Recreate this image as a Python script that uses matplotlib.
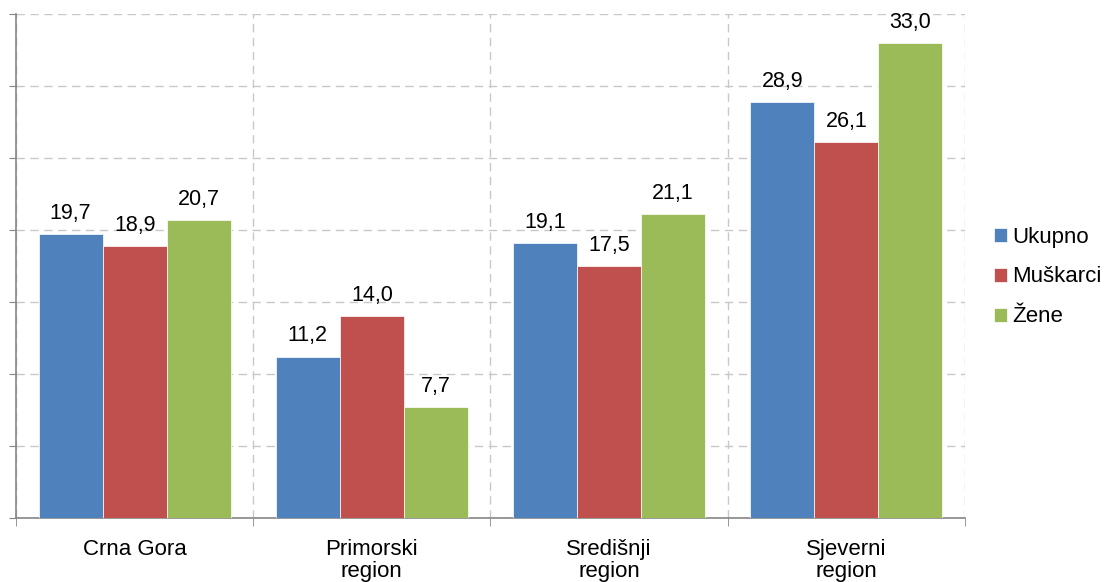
import matplotlib
matplotlib.use("Agg")
import matplotlib.pyplot as plt
import numpy as np

categories = ["Crna Gora", "Primorski\nregion", "Središnji\nregion", "Sjeverni\nregion"]
series_names = ["Ukupno", "Muškarci", "Žene"]
ukupno = [19.7, 11.2, 19.1, 28.9]
muskarci = [18.9, 14.0, 17.5, 26.1]
zene = [20.7, 7.7, 21.1, 33.0]
colors = ["#4F81BD", "#C0504D", "#9BBB59"]

plt.rcParams['font.family'] = ['Liberation Sans', 'DejaVu Sans']

fig = plt.figure(figsize=(11.04, 5.82), dpi=100)
ax = fig.add_axes([16/1104, 1 - 518/582, (965-16)/1104, (518-14)/582])

x = np.arange(len(categories))
w = 0.27
for i, (vals, name, c) in enumerate(zip([ukupno, muskarci, zene], series_names, colors)):
    pos = x + (i - 1) * w
    ax.bar(pos, vals, width=w, color=c, label=name, edgecolor="white", linewidth=0.5, zorder=3)
    for p, v in zip(pos, vals):
        ax.annotate(f"{v:.1f}".replace(".", ","), (p, v), xytext=(0, 11), textcoords="offset points",
                    ha="center", va="baseline", fontsize=15.5, color="black")

ax.set_xlim(-0.5, 3.5)
ax.set_ylim(0, 35)
ax.set_yticks(np.arange(0, 36, 5))
ax.set_yticklabels([])
ax.set_xticks(x)
ax.set_xticklabels(categories, fontsize=16, linespacing=1.05)
ax.set_xticks(np.arange(-0.5, 3.6, 1), minor=True)
ax.tick_params(axis="x", which="major", length=0, pad=15)
ax.tick_params(axis="x", which="minor", length=6, color="#868686", direction="out")
ax.tick_params(axis="y", length=5, color="#868686", direction="out")

ax.grid(axis="y", which="major", color="#C8C8C8", linestyle=(0, (6, 4)), linewidth=1, zorder=0)
ax.grid(axis="x", which="minor", color="#C8C8C8", linestyle=(0, (6, 4)), linewidth=1, zorder=0)
ax.grid(axis="x", which="major", visible=False)

for s in ["top", "right"]:
    ax.spines[s].set_visible(False)
for s in ["left", "bottom"]:
    ax.spines[s].set_color("#868686")
    ax.spines[s].set_linewidth(1.2)

leg = fig.legend(loc="center left", bbox_to_anchor=(994/1104, 1 - 277/582), frameon=False,
                 borderpad=0, borderaxespad=0,
                 fontsize=16, handlelength=0.6, handleheight=0.6, handletextpad=0.2, labelspacing=0.85)

fig.savefig("out.png", dpi=100)
